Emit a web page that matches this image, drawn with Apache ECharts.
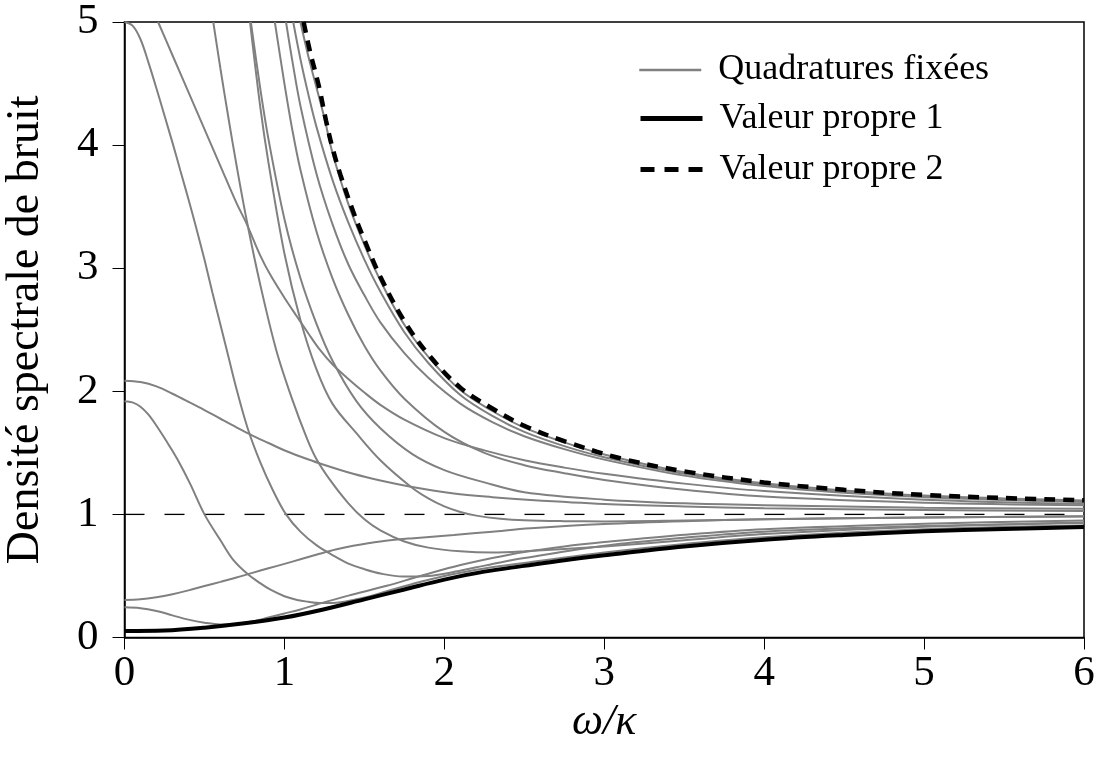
<!DOCTYPE html>
<html><head><meta charset="utf-8">
<script src="https://cdn.jsdelivr.net/npm/echarts@6/dist/echarts.min.js"></script>
<style>html,body{margin:0;padding:0;background:#fff}#c{width:1099px;height:763px}</style>
</head><body><div id="c"></div>
<script>
const xTicks = [0,1,2,3,4,5,6];
const yTicks = [0,1,2,3,4,5];
const vp1 = [[0,0.053],[0.25,0.057],[0.5,0.08],[0.75,0.115],[1,0.162],[1.25,0.23],[1.5,0.31],[1.75,0.39],[2,0.47],[2.25,0.535],[2.5,0.582],[2.75,0.628],[3,0.668],[3.5,0.74],[4,0.795],[4.5,0.833],[5,0.863],[5.5,0.882],[6,0.897]];
const vp2 = [[1.12,5.0],[1.16,4.76],[1.2,4.56],[1.224,4.43],[1.26,4.2],[1.3,3.98],[1.35,3.76],[1.43,3.46],[1.5,3.23],[1.6,2.93],[1.75,2.57],[1.9,2.3],[2.1,2.03],[2.3,1.86],[2.5,1.72],[2.75,1.595],[3.1,1.456],[3.5,1.35],[4,1.26],[4.5,1.2],[5,1.158],[5.5,1.133],[6,1.115]];
const ref1 = [[0,1],[6,1]];
const qA = [[0,5.0],[0.05,4.97],[0.1,4.86],[0.15,4.67],[0.2,4.46],[0.25,4.24],[0.3,4.02],[0.35,3.79],[0.4,3.56],[0.45,3.32],[0.5,3.07],[0.55,2.8],[0.6,2.54],[0.65,2.28],[0.7,2.02],[0.77,1.7],[0.85,1.42],[0.93,1.19],[1.01,1.0],[1.1,0.86],[1.2,0.75],[1.3,0.67],[1.4,0.6],[1.5,0.555],[1.6,0.52],[1.74,0.495],[1.9,0.5],[2.05,0.53],[2.2,0.57],[2.35,0.61],[2.5,0.645],[3,0.745],[3.5,0.81],[4,0.86],[5,0.905],[6,0.93]];
const qL1 = [[0,0.245],[0.1,0.238],[0.2,0.215],[0.3,0.18],[0.4,0.145],[0.5,0.12],[0.6,0.106],[0.7,0.11],[0.8,0.13],[0.9,0.162],[1.0,0.195],[1.1,0.228],[1.22,0.275],[1.4,0.34],[1.64,0.42],[1.85,0.5],[2.06,0.575],[2.3,0.645],[2.5,0.695],[2.75,0.74],[3,0.775],[3.5,0.835],[4,0.88],[5,0.925],[6,0.95]];
const qL2 = [[0,0.305],[0.1,0.31],[0.2,0.327],[0.3,0.352],[0.4,0.383],[0.5,0.418],[0.6,0.452],[0.7,0.487],[0.8,0.525],[0.9,0.562],[1.0,0.598],[1.1,0.635],[1.22,0.68],[1.32,0.715],[1.43,0.745],[1.6,0.78],[1.79,0.805],[2.06,0.833],[2.3,0.86],[2.54,0.887],[3,0.922],[3.5,0.945],[4,0.96],[5,0.975],[6,0.982]];
const qC1 = [[0,2.086],[0.1,2.075],[0.2,2.04],[0.3,1.98],[0.4,1.915],[0.5,1.848],[0.6,1.777],[0.7,1.707],[0.8,1.64],[0.9,1.58],[1.01,1.515],[1.1,1.47],[1.22,1.415],[1.43,1.33],[1.6,1.275],[1.79,1.225],[2.06,1.17],[2.3,1.14],[2.54,1.117],[3,1.085],[3.5,1.065],[4,1.05],[5,1.035],[6,1.028]];
const qC2 = [[0,1.92],[0.05,1.91],[0.1,1.875],[0.15,1.81],[0.2,1.72],[0.26,1.6],[0.33,1.45],[0.41,1.25],[0.5,1.0],[0.6,0.79],[0.68,0.63],[0.77,0.515],[0.85,0.44],[0.91,0.39],[1.0,0.335],[1.08,0.305],[1.15,0.29],[1.22,0.28],[1.3,0.28],[1.45,0.31],[1.6,0.36],[1.8,0.435],[2.0,0.5],[2.25,0.56],[2.5,0.605],[3,0.69],[3.5,0.76],[4,0.815],[5,0.88],[6,0.91]];
const qB = [[0.21,5.0],[0.3,4.73],[0.4,4.43],[0.5,4.13],[0.6,3.83],[0.7,3.53],[0.764,3.36],[0.85,3.1],[0.91,2.95],[1.0,2.76],[1.077,2.61],[1.15,2.47],[1.22,2.34],[1.3,2.22],[1.4,2.1],[1.5,1.99],[1.6,1.89],[1.75,1.77],[2.0,1.62],[2.25,1.52],[2.5,1.44],[2.75,1.38],[3,1.33],[3.5,1.25],[4,1.19],[5,1.12],[6,1.085]];
const qD = [[0.555,5.0],[0.6,4.62],[0.65,4.22],[0.7,3.84],[0.764,3.39],[0.85,2.86],[0.95,2.33],[1.05,1.93],[1.14,1.62],[1.2,1.45],[1.285,1.28],[1.4,1.09],[1.5,0.96],[1.6,0.87],[1.75,0.78],[1.9,0.73],[2.1,0.7],[2.3,0.69],[2.5,0.7],[3,0.74],[3.5,0.79],[4,0.84],[5,0.9],[6,0.935]];
const qE1 = [[0.785,5.0],[0.85,4.3],[0.9,3.86],[1.0,3.12],[1.1,2.58],[1.2,2.18],[1.3,1.9],[1.45,1.66],[1.6,1.44],[1.79,1.225],[1.9,1.13],[2.0,1.065],[2.1,1.02],[2.2,0.99],[2.35,0.965],[2.5,0.952],[2.75,0.945],[3,0.943],[3.5,0.95],[4,0.96],[5,0.975],[6,0.985]];
const qE2 = [[0.79,5.0],[0.85,4.45],[0.9,4.05],[1.0,3.4],[1.1,2.92],[1.2,2.55],[1.3,2.25],[1.45,1.92],[1.6,1.7],[1.8,1.49],[2.0,1.36],[2.25,1.26],[2.5,1.18],[3,1.12],[3.5,1.09],[4,1.075],[5,1.055],[6,1.045]];
const qF = [[0.94,5.0],[1.0,4.5],[1.05,4.12],[1.1,3.8],[1.2,3.3],[1.3,2.92],[1.4,2.62],[1.5,2.37],[1.6,2.17],[1.75,1.94],[2.0,1.67],[2.25,1.5],[2.5,1.4],[2.75,1.335],[3,1.28],[3.5,1.2],[4,1.145],[5,1.095],[6,1.075]];
const qG = [[1.01,5.0],[1.05,4.68],[1.1,4.32],[1.2,3.77],[1.3,3.36],[1.4,3.03],[1.5,2.78],[1.6,2.56],[1.75,2.31],[1.9,2.11],[2.1,1.9],[2.3,1.75],[2.5,1.635],[2.75,1.53],[3,1.445],[3.5,1.315],[4,1.23],[4.5,1.175],[5,1.14],[5.5,1.117],[6,1.1]];
const qH = [[1.055,5.0],[1.1,4.7],[1.15,4.41],[1.2,4.15],[1.3,3.72],[1.4,3.37],[1.5,3.07],[1.6,2.81],[1.75,2.48],[1.9,2.23],[2.1,1.97],[2.3,1.8],[2.5,1.67],[2.75,1.555],[3,1.465],[3.5,1.33],[4,1.24],[4.5,1.183],[5,1.145],[5.5,1.122],[6,1.105]];
const qI = [[1.1,5.0],[1.15,4.72],[1.2,4.47],[1.25,4.22],[1.3,3.94],[1.4,3.52],[1.5,3.19],[1.6,2.9],[1.75,2.54],[1.9,2.28],[2.1,2.01],[2.3,1.84],[2.5,1.705],[2.75,1.585],[3,1.487],[3.5,1.343],[4,1.253],[4.5,1.195],[5,1.153],[5.5,1.13],[6,1.112]];

const grays = [qA,qL1,qL2,qC1,qC2,qB,qD,qE1,qE2,qF,qG,qH,qI];
const FONT = 'Liberation Serif';
const series = grays.map(d => ({
  name: 'Quadratures fixées', type: 'line', data: d, symbol: 'none', smooth: 0.35,
  lineStyle: {color: '#808080', width: 2}, itemStyle: {color: '#808080'}, z: 2, silent: true, animation: false
}));
series.push({name: 'ref', type: 'line', data: ref1, symbol: 'none', lineStyle: {color: '#000', width: 1.3, type: [20, 20]}, z: 1, animation: false});
series.push({name: 'Valeur propre 1', type: 'line', data: vp1, symbol: 'none', smooth: 0.35, lineStyle: {color: '#000', width: 4}, itemStyle: {color: '#000'}, z: 3, animation: false});
series.push({name: 'Valeur propre 2', type: 'line', data: vp2, symbol: 'none', smooth: 0.35, lineStyle: {color: '#000', width: 4.5, type: [11, 8]}, itemStyle: {color: '#000'}, z: 4, animation: false});

const legendCommon = {orient: 'vertical', left: 633, itemWidth: 62, itemHeight: 14,
  textStyle: {fontFamily: FONT, fontSize: 36, color: '#000', padding: [0, 0, 0, 12]},
  selectedMode: false, itemStyle: {opacity: 0, borderWidth: 0}};
const chart = echarts.init(document.getElementById('c'), null, {renderer: 'canvas'});
chart.setOption({
  animation: false,
  backgroundColor: '#fff',
  grid: {left: 124.5, right: 15, top: 22, bottom: 125.5, show: true, borderColor: '#000', borderWidth: 1.5, backgroundColor: 'transparent', outerBoundsMode: 'none'},
  legend: [
    Object.assign({}, legendCommon, {top: 47, data: ['Quadratures fixées'], lineStyle: {color: '#808080', width: 2.5, type: 'solid'}}),
    Object.assign({}, legendCommon, {top: 95.5, data: ['Valeur propre 1'], lineStyle: {color: '#000', width: 5, type: 'solid'}}),
    Object.assign({}, legendCommon, {top: 146.5, data: ['Valeur propre 2'], lineStyle: {color: '#000', width: 5, type: [14, 10]}})
  ],
  xAxis: {type: 'value', min: xTicks[0], max: xTicks[xTicks.length-1], interval: 1,
    axisLine: {show: true, onZero: false, lineStyle: {color: '#000', width: 1.5}},
    axisTick: {show: true, inside: false, length: 12, lineStyle: {color: '#000', width: 1}},
    axisLabel: {color: '#000', fontFamily: FONT, fontSize: 43, margin: 15},
    splitLine: {show: false},
    name: 'ω/κ', nameLocation: 'middle', nameGap: 50,
    nameTextStyle: {color: '#000', fontFamily: FONT, fontSize: 44, fontStyle: 'italic'}},
  yAxis: {type: 'value', min: yTicks[0], max: yTicks[yTicks.length-1], interval: 1,
    axisLine: {show: true, onZero: false, lineStyle: {color: '#000', width: 1.5}},
    axisTick: {show: true, inside: false, length: 12, lineStyle: {color: '#000', width: 1}},
    axisLabel: {color: '#000', fontFamily: FONT, fontSize: 43, margin: 26},
    splitLine: {show: false},
    name: 'Densité spectrale de bruit', nameLocation: 'middle', nameGap: 76, nameRotate: 90,
    nameTextStyle: {color: '#000', fontFamily: FONT, fontSize: 46}},
  series: series
});
</script></body></html>
